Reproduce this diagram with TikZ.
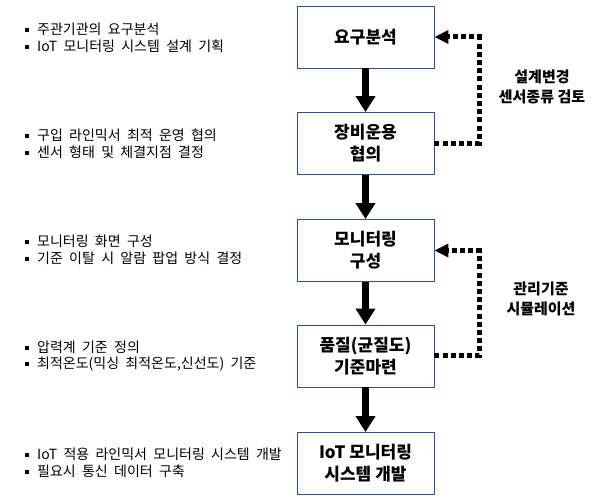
\documentclass[tikz,border=0pt]{standalone}
\usepackage{fontspec}
\setmainfont{Noto Sans CJK KR}
\newfontfamily\notefont[WordSpace=2]{Noto Sans CJK KR}
\usetikzlibrary{arrows.meta}
\tikzset{
  stepbox/.style={draw=boxblue, line width=0.9pt, minimum width=137pt, minimum height=62pt,
    inner sep=0pt, align=center, font=\fontsize{17}{22}\selectfont\bfseries},
  flow/.style={line width=6.5pt, -{Triangle[length=16pt,width=19pt]}},
  fb/.style={line width=5pt, dash pattern=on 5pt off 3.2pt, -{Triangle[length=14pt,width=13pt]}},
  notes/.style={anchor=west, align=left, inner sep=0pt, font=\notefont\fontsize{14}{16.5}\selectfont},
  fblabel/.style={align=center, inner sep=0pt, font=\fontsize{15}{19.5}\selectfont\bfseries}
}
\definecolor{boxblue}{HTML}{2F4F8F}
\newcommand{\blt}{\raisebox{2.5pt}{\rule{4pt}{4pt}}\hspace{8pt}}
\begin{document}
\begin{tikzpicture}[x=1pt,y=-1pt]
\useasboundingbox (0,0) rectangle (608,502);
\node[stepbox] (b1) at (365.5,37) {요구분석};
\node[stepbox] (b2) at (365.5,143.5) {장비운용\\협의};
\node[stepbox] (b3) at (365.5,250.5) {모니터링\\구성};
\node[stepbox] (b4) at (365.5,356) {품질(균질도)\\기준마련};
\node[stepbox] (b5) at (365.5,463.5) {IoT 모니터링\\시스템 개발};
\draw[flow] (b1) -- (b2);
\draw[flow] (b2) -- (b3);
\draw[flow] (b3) -- (b4);
\draw[flow] (b4) -- (b5);
\coordinate (c1) at (479,143.5);
\coordinate (c2) at (479,356);
\draw[fb] (b2.east) -- (c1) |- (b1.east);
\draw[fb] (b4.east) -- (c2) |- (b3.east);
\node[fblabel] (l1) at (542,87) {설계변경\\센서종류 검토};
\node[fblabel] (l2) at (541,299) {관리기준\\시뮬레이션};
\node[notes] (n1) at (25,38) {\blt 주관기관의 요구분석\\\blt IoT 모니터링 시스템 설계 기획};
\node[notes] (n2) at (25,143.5) {\blt 구입 라인믹서 최적 운영 협의\\\blt 센서 형태 및 체결지점 결정};
\node[notes] (n3) at (25,250) {\blt 모니터링 화면 구성\\\blt 기준 이탈 시 알람 팝업 방식 결정};
\node[notes] (n4) at (25,356) {\blt 압력계 기준 정의\\\blt 최적온도(믹싱 최적온도,신선도) 기준};
\node[notes] (n5) at (25,463) {\blt IoT 적용 라인믹서 모니터링 시스템 개발\\\blt 필요시 통신 데이터 구축};
\end{tikzpicture}
\end{document}
